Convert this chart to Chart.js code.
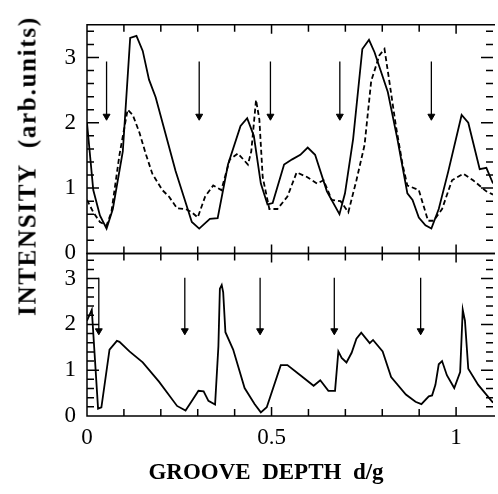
<!DOCTYPE html>
<html>
<head>
<meta charset="utf-8">
<script src="https://cdn.jsdelivr.net/npm/chart.js@4.4.1/dist/chart.umd.min.js"></script>
<style>
  html, body { margin: 0; padding: 0; background: #fff; }
  #wrap { position: relative; width: 498px; height: 494px; }
  .axis-title {
    position: absolute; font: bold 23px "Liberation Serif", serif;
    white-space: pre; color: #000; line-height: 1;
  }
  #ytitle {
    left: 27px; top: 166px; font-size: 25px; letter-spacing: 1.7px;
    transform: translate(-50%, -50%) rotate(-90deg);
  }
  #xtitle { left: 266px; top: 471px; transform: translate(-50%, -50%); }
</style>
</head>
<body>
<div id="wrap">
  <canvas id="chart" width="498" height="494"></canvas>
  <div id="ytitle" class="axis-title">INTENSITY  (arb.units)</div>
  <div id="xtitle" class="axis-title">GROOVE  DEPTH  d/g</div>
</div>
<script>
// upper panel, solid curve
const topSolidX = [0, 0.017, 0.035, 0.053, 0.070, 0.097, 0.117, 0.134, 0.151, 0.168, 0.186, 0.240, 0.262, 0.284, 0.304, 0.333, 0.354, 0.382, 0.416, 0.434, 0.452, 0.471, 0.489, 0.503, 0.534, 0.556, 0.578, 0.598, 0.618, 0.650, 0.684, 0.699, 0.721, 0.746, 0.764, 0.779, 0.815, 0.841, 0.868, 0.882, 0.899, 0.917, 0.933, 0.953, 0.979, 1.015, 1.033, 1.064, 1.082, 1.100];
const topSolidY = [2.00, 0.97, 0.58, 0.38, 0.68, 1.56, 3.30, 3.33, 3.10, 2.66, 2.39, 1.26, 0.87, 0.48, 0.38, 0.53, 0.54, 1.36, 1.95, 2.07, 1.80, 1.07, 0.75, 0.77, 1.36, 1.44, 1.51, 1.62, 1.51, 0.95, 0.60, 0.92, 1.75, 3.13, 3.27, 3.08, 2.47, 1.75, 0.92, 0.82, 0.55, 0.43, 0.38, 0.68, 1.26, 2.12, 2.00, 1.29, 1.31, 1.07];

// upper panel, dashed curve
const topDashX = [0, 0.017, 0.035, 0.053, 0.066, 0.088, 0.110, 0.124, 0.142, 0.160, 0.177, 0.204, 0.222, 0.244, 0.267, 0.284, 0.300, 0.320, 0.342, 0.364, 0.387, 0.409, 0.436, 0.445, 0.458, 0.467, 0.476, 0.494, 0.516, 0.543, 0.568, 0.596, 0.623, 0.641, 0.663, 0.687, 0.708, 0.730, 0.752, 0.770, 0.792, 0.806, 0.819, 0.837, 0.855, 0.868, 0.899, 0.924, 0.939, 0.962, 0.989, 1.020, 1.046, 1.082, 1.100];
const topDashY = [0.82, 0.63, 0.48, 0.43, 0.63, 1.51, 2.20, 2.12, 1.85, 1.51, 1.22, 0.97, 0.87, 0.69, 0.68, 0.63, 0.55, 0.87, 1.04, 0.97, 1.44, 1.53, 1.36, 1.56, 2.35, 2.05, 1.17, 0.68, 0.68, 0.87, 1.24, 1.17, 1.07, 1.12, 0.82, 0.80, 0.63, 1.12, 1.66, 2.64, 3.03, 3.13, 2.64, 1.95, 1.36, 1.04, 0.97, 0.50, 0.50, 0.68, 1.12, 1.22, 1.12, 0.95, 0.90];

// lower panel curve
const botX = [0, 0.013, 0.030, 0.039, 0.061, 0.081, 0.088, 0.115, 0.151, 0.195, 0.244, 0.267, 0.284, 0.302, 0.316, 0.329, 0.347, 0.356, 0.360, 0.365, 0.369, 0.375, 0.396, 0.427, 0.454, 0.471, 0.487, 0.525, 0.543, 0.578, 0.614, 0.632, 0.654, 0.672, 0.681, 0.690, 0.703, 0.717, 0.730, 0.743, 0.766, 0.775, 0.801, 0.824, 0.864, 0.890, 0.906, 0.926, 0.935, 0.944, 0.953, 0.962, 0.975, 0.995, 1.011, 1.018, 1.024, 1.033, 1.060, 1.100];
const botY = [2.08, 2.32, 0.16, 0.19, 1.45, 1.64, 1.62, 1.41, 1.17, 0.75, 0.22, 0.12, 0.33, 0.55, 0.54, 0.33, 0.25, 1.52, 2.78, 2.86, 2.70, 1.83, 1.45, 0.61, 0.26, 0.08, 0.19, 1.11, 1.11, 0.89, 0.66, 0.78, 0.55, 0.55, 1.41, 1.27, 1.17, 1.38, 1.69, 1.82, 1.59, 1.66, 1.41, 0.85, 0.47, 0.31, 0.26, 0.43, 0.45, 0.68, 1.13, 1.20, 0.89, 0.61, 0.96, 2.32, 2.08, 1.03, 0.68, 0.29];

// arrow positions (x) and their start / head levels
const topArrowX = [0.053, 0.304, 0.497, 0.685, 0.933];
const topArrowFrom = 2.94, topArrowTo = 2.10;
const botArrowX = [0.032, 0.265, 0.469, 0.670, 0.904];
const botArrowFrom = 3.02, botArrowTo = 1.86;

const yTicks = [0, 1, 2, 3];
const xTicks = [0, 0.5, 1];

const zip = (xs, ys) => xs.map((x, i) => ({x: x, y: ys[i]}));

function curve(data, axis, dash) {
    return {
        data: data,
        yAxisID: axis,
        borderColor: '#000',
        borderWidth: 1.8,
        borderDash: dash || [],
        pointRadius: 0,
        tension: 0,
        fill: false
    };
}

function arrows(xs, from, to, axis) {
    return xs.map(x => ({
        data: [{x: x, y: from}, {x: x, y: to}],
        yAxisID: axis,
        borderColor: '#000',
        borderWidth: 1.3,
        pointRadius: [0, 4],
        pointStyle: 'triangle',
        pointRotation: 180,
        pointBackgroundColor: '#000',
        pointBorderColor: '#000',
        pointBorderWidth: 1
    }));
}

// frame of each panel plus inward tick marks
const panelFrame = {
    id: 'panelFrame',
    afterDatasetsDraw(chart) {
        const {ctx, chartArea, scales} = chart;
        const xs = scales.x;
        const left = chartArea.left, right = chartArea.right;
        ctx.save();
        ctx.strokeStyle = '#000';
        ctx.lineWidth = 1.5;
        ['yTop', 'yBot'].forEach(id => {
            const ys = scales[id];
            const top = ys.top, bottom = ys.bottom;
            ctx.beginPath();
            ctx.moveTo(right + 2, top);
            ctx.lineTo(left, top);
            ctx.lineTo(left, bottom);
            ctx.lineTo(right + 2, bottom);
            for (let i = 0; i <= 10; i++) {
                const px = xs.getPixelForValue(i / 10);
                const len = i % 5 === 0 ? 9 : 7;
                ctx.moveTo(px, top);
                ctx.lineTo(px, top + len);
                ctx.moveTo(px, bottom);
                ctx.lineTo(px, bottom - len);
            }
            for (let k = 0; k * 0.2 <= ys.max + 1e-9; k++) {
                const py = ys.getPixelForValue(k * 0.2);
                const len = k % 5 === 0 ? 12 : 7;
                ctx.moveTo(left, py);
                ctx.lineTo(left + len, py);
                ctx.moveTo(right, py);
                ctx.lineTo(right - len, py);
            }
            ctx.stroke();
        });
        ctx.restore();
    }
};

function tickOpts(pad) {
    return {
        font: {family: 'Liberation Serif', size: 23},
        color: '#000',
        padding: pad,
        callback: v => String(v)
    };
}

function panelAxis(max, weight) {
    return {
        type: 'linear',
        position: 'left',
        stack: 'panels',
        stackWeight: weight,
        min: 0,
        max: max,
        afterFit: s => { s.width = 87; },
        afterBuildTicks: s => { s.ticks = yTicks.map(v => ({value: v})); },
        grid: {display: false, drawTicks: false},
        border: {display: false},
        ticks: tickOpts(11)
    };
}

new Chart(document.getElementById('chart'), {
    type: 'line',
    data: {
        datasets: [
            curve(zip(topSolidX, topSolidY), 'yTop'),
            curve(zip(topDashX, topDashY), 'yTop', [5, 3]),
            curve(zip(botX, botY), 'yBot'),
            ...arrows(topArrowX, topArrowFrom, topArrowTo, 'yTop'),
            ...arrows(botArrowX, botArrowFrom, botArrowTo, 'yBot')
        ]
    },
    options: {
        responsive: false,
        devicePixelRatio: 1,
        animation: false,
        layout: {padding: {top: 7, right: 0, bottom: 0, left: 0}},
        scales: {
            x: {
                type: 'linear',
                min: 0,
                max: 1.1,
                afterBuildTicks: s => { s.ticks = xTicks.map(v => ({value: v})); },
                afterFit: s => { s.height = 78; },
                grid: {display: false, drawTicks: false},
                border: {display: false},
                ticks: tickOpts(8)
            },
            yBot: panelAxis(3.55, 170),
            yTop: panelAxis(3.5, 239)
        },
        plugins: {
            legend: {display: false},
            tooltip: {enabled: false}
        }
    },
    plugins: [panelFrame]
});
</script>
</body>
</html>
